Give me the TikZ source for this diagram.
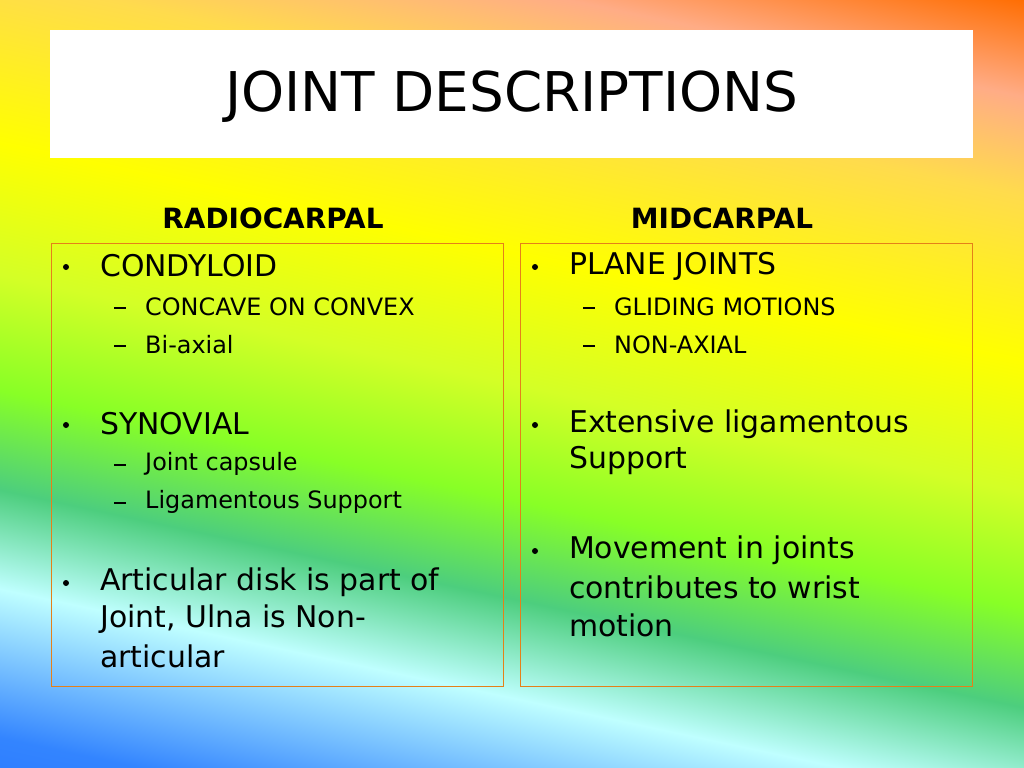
\documentclass[tikz,border=0pt]{standalone}
\usepackage{fontspec}
\setmainfont{DejaVu Sans}
\pgfdeclareverticalshading{rb}{100bp}{color(0bp)=(blue!75!cyan); color(22bp)=(blue!60!cyan!80!white); color(31bp)=(cyan!25!white); color(37bp)=(green!45!teal!70!white); color(43bp)=(green!55!yellow!85!white); color(50bp)=(yellow!80!green!85!white); color(58bp)=(yellow); color(68bp)=(yellow!60!orange!70!white); color(74bp)=(orange!30!pink); color(80bp)=(orange!85!red); color(100bp)=(orange!60!red)}
\tikzset{
 l1/.style={anchor=west,font=\fontsize{30}{36}\selectfont,inner sep=0pt},
 l2/.style={anchor=west,font=\fontsize{24}{29}\selectfont,inner sep=0pt},
 hd/.style={font=\fontsize{28}{34}\selectfont\bfseries,inner sep=0pt},
 box/.style={draw=orange!60!brown,line width=0.8bp},
 dsh/.style={anchor=west,inner sep=0pt,minimum width=12bp,minimum height=1.5bp,fill=black},
 bul/.style={circle,fill=black,inner sep=0pt,minimum size=6bp}
}
\begin{document}
\begin{tikzpicture}[x=1bp,y=-1bp]
\useasboundingbox (0,0) rectangle (1024,768);
\shade[shading=rb,shading angle=-12] (0,0) rectangle (1024,768);
\node[fill=white,minimum width=923bp,minimum height=128bp,inner sep=0pt] (tb) at (511.5,94) {};
\node[font=\fontsize{55}{66}\selectfont,inner sep=0pt] (title) at (512,97) {JOINT DESCRIPTIONS};
\draw[box] (51,243) rectangle (503,686);
\draw[box] (520,243) rectangle (972,686);
\node[hd] (h1) at (273,218) {RADIOCARPAL};
\node[hd] (h2) at (722,218) {MIDCARPAL};
% left
\node[bul] (b1) at (66,267) {}; \node[l1] (t1) at (100,266) {CONDYLOID};
\node[dsh] (d1) at (114,308) {}; \node[l2] (s1) at (145,307) {CONCAVE ON CONVEX};
\node[dsh] (d2) at (114,346) {}; \node[l2] (s2) at (145,345) {Bi-axial};
\node[bul] (b2) at (66,425) {}; \node[l1] (t2) at (100,424) {SYNOVIAL};
\node[dsh] (d3) at (114,465) {}; \node[l2] (s3) at (145,464) {Joint capsule};
\node[dsh] (d4) at (114,503) {}; \node[l2] (s4) at (145,502) {Ligamentous Support};
\node[bul] (b3) at (66,583) {}; \node[l1] (t3) at (100,582) {Articular disk is part of};
\node[l1] (t3b) at (100,619) {Joint, Ulna is Non-};
\node[l1] (t3c) at (100,656) {articular};
% right
\node[bul] (rb1) at (535,267) {}; \node[l1] (r1) at (569,266) {PLANE JOINTS};
\node[dsh] (rd1) at (583,308) {}; \node[l2] (rs1) at (614,307) {GLIDING MOTIONS};
\node[dsh] (rd2) at (583,346) {}; \node[l2] (rs2) at (614,345) {NON-AXIAL};
\node[bul] (rb2) at (535,425) {}; \node[l1] (r2) at (569,424) {Extensive ligamentous};
\node[l1] (r2b) at (569,461) {Support};
\node[bul] (rb3) at (535,551) {}; \node[l1] (r3) at (569,550) {Movement in joints};
\node[l1] (r3b) at (569,587) {contributes to wrist};
\node[l1] (r3c) at (569,625) {motion};
\end{tikzpicture}
\end{document}
